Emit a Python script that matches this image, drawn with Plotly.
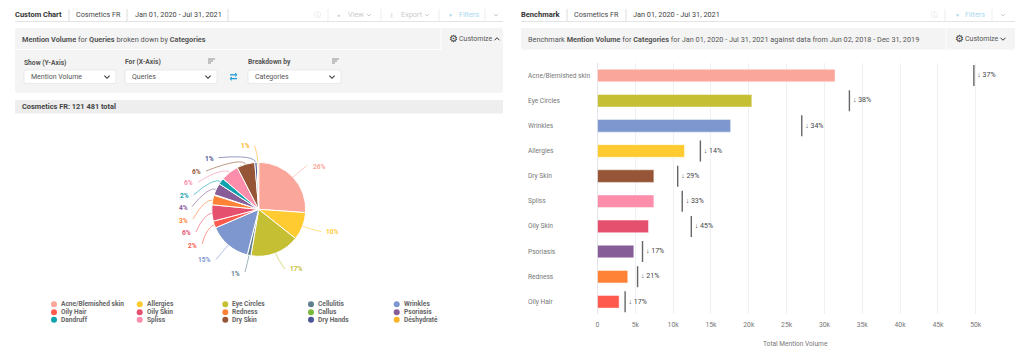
import math
import plotly.graph_objects as go

W, H = 1024, 351
FONT = "Roboto, Arial, sans-serif"

# ---------- data ----------
pie_labels = ["Acne/Blemished skin", "Allergies", "Eye Circles", "Cellulitis", "Wrinkles",
              "Oily Hair", "Oily Skin", "Redness", "Callus", "Psoriasis",
              "Dandruff", "Spliss", "Dry Skin", "Dry Hands", "Déshydraté"]
pie_values = [31400, 11500, 20400, 1500, 17600, 2860, 6740, 4000, 300, 4800, 2600, 7450, 7450, 1000, 600]
pie_pct = ["26%", "10%", "17%", "1%", "15%", "2%", "6%", "3%", "", "4%", "2%", "6%", "6%", "1%", "1%"]
pie_colors = ["#FBA69B", "#FFCB30", "#C5BF33", "#5F7F8C", "#7F97CF",
              "#FF5A4E", "#E5506F", "#FF8237", "#78B83D", "#865D97",
              "#0FA3AE", "#FC8EAC", "#965537", "#4B5595", "#FDB42A"]

bar_categories = ["Acne/Blemished skin", "Eye Circles", "Wrinkles", "Allergies", "Dry Skin",
                  "Spliss", "Oily Skin", "Psoriasis", "Redness", "Oily Hair"]
bar_values = [31400, 20400, 17600, 11500, 7450, 7450, 6740, 4800, 4000, 2860]
benchmark_values = [49750, 33300, 27000, 13600, 10600, 11200, 12400, 5950, 5300, 3650]
change_pct = ["37%", "38%", "34%", "14%", "29%", "33%", "45%", "17%", "21%", "17%"]
bar_colors = ["#FBA69B", "#C5BF33", "#7F97CF", "#FFCB30", "#965537",
              "#FC8EAC", "#E5506F", "#865D97", "#FF8237", "#FF5A4E"]

# ---------- layout constants (pixels) ----------
PIE_CX, PIE_CY, PIE_R = 258.7, 209.3, 47
pie_label_px = [(319, 166.5), (332.5, 232), (296.5, 269), (235, 273.5), (204.5, 259.5),
                (192.5, 245.5), (186.5, 232.5), (183.5, 220.5), None, (183, 207.5),
                (184.5, 196), (188.5, 183.5), (196, 171.5), (209, 158.5), (245, 146.5)]
pie_line_end = [(307, 165.5), (321, 231.5), (285, 269), (245, 272), (216, 259.5),
                (202, 244), (196, 232), (193, 219), None, (192, 206.5),
                (193.5, 195), (198, 182), (206, 171), (218.5, 157.7), (254.5, 145.5)]


def xp(x):
    return x / W


def yp(y):
    return 1 - y / H


shapes, annots = [], []


def text(x, y, s, size=7.3, color="#555", anchor="left"):
    annots.append(dict(x=xp(x - 1 if anchor == "left" else x), y=yp(y), xref="paper", yref="paper", text=s,
                       showarrow=False, xanchor=anchor, yanchor="middle", borderpad=0, align=anchor,
                       font=dict(family=FONT, size=size, color=color)))


def rect(x0, y0, x1, y1, fill, line=None, r=0):
    if r:
        path = (f"M{xp(x0+r)},{yp(y0)} L{xp(x1-r)},{yp(y0)} Q{xp(x1)},{yp(y0)} {xp(x1)},{yp(y0+r)} "
                f"L{xp(x1)},{yp(y1-r)} Q{xp(x1)},{yp(y1)} {xp(x1-r)},{yp(y1)} "
                f"L{xp(x0+r)},{yp(y1)} Q{xp(x0)},{yp(y1)} {xp(x0)},{yp(y1-r)} "
                f"L{xp(x0)},{yp(y0+r)} Q{xp(x0)},{yp(y0)} {xp(x0+r)},{yp(y0)} Z")
        shapes.append(dict(type="path", xref="paper", yref="paper", path=path, fillcolor=fill,
                           line=dict(width=0.7 if line else 0, color=line or fill), layer="below"))
    else:
        shapes.append(dict(type="rect", xref="paper", yref="paper", x0=xp(x0), x1=xp(x1), y0=yp(y0), y1=yp(y1),
                           fillcolor=fill, line=dict(width=0.7 if line else 0, color=line or fill), layer="below"))


def seg(x0, y0, x1, y1, color="#ddd", width=1):
    shapes.append(dict(type="line", xref="paper", yref="paper", x0=xp(x0), x1=xp(x1), y0=yp(y0), y1=yp(y1),
                       line=dict(color=color, width=width), layer="below"))


def poly(points, color, width=1):
    path = "M" + " L".join(f"{xp(a)},{yp(b)}" for a, b in points)
    shapes.append(dict(type="path", xref="paper", yref="paper", path=path,
                       line=dict(color=color, width=width), layer="above"))


def chevron(x, y, color="#444", up=False, s=2.5, width=1):
    d = -1 if up else 1
    poly([(x - s, y - d * s / 2), (x, y + d * s / 2), (x + s, y - d * s / 2)], color, width)


def sort_icon(x, y):
    for i, w in enumerate((7, 5, 3)):
        seg(x, y + i * 2, x + w, y + i * 2, "#777", 0.8)


# ---------- left chrome ----------
text(15, 15, "<b>Custom Chart</b>", 7.5, "#333")
text(76, 15, "Cosmetics FR", 7.2, "#444")
text(135, 15, "Jan 01, 2020 - Jul 31, 2021", 7.3, "#444")
for x in (69, 127, 228):
    seg(x, 9, x, 21, "#ddd")
seg(15, 21.5, 503, 21.5, "#e4e4e4")
text(317, 15, "ⓘ", 7, "#dddddd", "center")
seg(328, 9, 328, 21, "#eee")
text(338, 15, "●", 5, "#cccccc", "center")
text(348, 15, "View", 7.3, "#cccccc")
chevron(369, 15, "#cccccc", s=2)
seg(381, 9, 381, 21, "#eee")
text(391, 15, "⤓", 7, "#cccccc", "center")
text(401, 15, "Export", 7.3, "#cccccc")
chevron(427, 15, "#cccccc", s=2)
seg(439, 9, 439, 21, "#eee")
text(450, 15, "▼", 5, "#a9d8f0", "center")
text(459, 15, "Filters", 7.3, "#a9d8f0")
seg(485, 9, 485, 21, "#eee")
chevron(496, 15, "#cccccc", s=2)

rect(15, 28, 503, 93, "#f4f4f4", r=3)
seg(15, 49.5, 441, 49.5, "#ffffff")
seg(441, 28, 441, 49.5, "#ffffff")
text(22, 39, "<b>Mention Volume</b> for <b>Queries</b> broken down by <b>Categories</b>", 7.35, "#555")
text(453, 38.5, "⚙", 10, "#333", "center")
text(459, 39, "Customize", 7, "#555")
chevron(497, 39, "#333", up=True)
text(24, 62.5, "<b>Show (Y-Axis)</b>", 6.7, "#555")
text(125, 61.5, "<b>For (X-Axis)</b>", 6.7, "#555")
text(248, 61.5, "<b>Breakdown by</b>", 6.7, "#555")
sort_icon(208, 59)
sort_icon(332, 59)
for x0, x1, s in ((24, 116, "Mention Volume"), (125, 217, "Queries"), (248, 341, "Categories")):
    rect(x0, 70, x1, 83.5, "#ffffff", "#e2e2e2", r=2)
    text(x0 + 7, 76.5, s, 7, "#555")
    chevron(x1 - 9, 77, "#333", s=2.6, width=1.1)
# swap icon
poly([(230, 74.8), (237, 74.8)], "#1E9BD7", 1.3)
poly([(235, 73), (237, 74.8), (235, 76.6)], "#1E9BD7", 1)
poly([(230, 78.6), (237, 78.6)], "#1E9BD7", 1.3)
poly([(232, 76.8), (230, 78.6), (232, 80.4)], "#1E9BD7", 1)
rect(15, 100, 503, 113.5, "#eeeeee")
text(22, 106.7, "<b>Cosmetics FR: 121 481 total</b>", 7.4, "#444")

# ---------- right chrome ----------
text(521, 15, "<b>Benchmark</b>", 7.5, "#333")
text(574, 15, "Cosmetics FR", 7.2, "#444")
text(633, 15, "Jan 01, 2020 - Jul 31, 2021", 7.3, "#444")
for x in (567, 626):
    seg(x, 9, x, 21, "#ddd")
seg(521, 21.5, 1015, 21.5, "#e4e4e4")
text(934, 15, "ⓘ", 7, "#dddddd", "center")
seg(945, 9, 945, 21, "#eee")
text(957, 15, "▼", 5, "#a9d8f0", "center")
text(965, 15, "Filters", 7.3, "#a9d8f0")
seg(992, 9, 992, 21, "#eee")
chevron(1003, 15, "#cccccc", s=2)
rect(521, 28, 1015, 49.5, "#f4f4f4")
seg(946, 28, 946, 49.5, "#ffffff")
text(528, 39, "Benchmark <b>Mention Volume</b> for <b>Categories</b> for Jan 01, 2020 - Jul 31, 2021 "
              "against data from Jun 02, 2018 - Dec 31, 2019", 7.3, "#555")
text(959, 38.5, "⚙", 10, "#333", "center")
text(965, 39, "Customize", 7, "#555")
chevron(1003, 39, "#333")

# ---------- custom legend ----------
leg_x = [54, 139.7, 225.3, 311, 396.7]
leg_y = [304.3, 312.3, 319.7]
for i, (lab, col) in enumerate(zip(pie_labels, pie_colors)):
    cx, cy = leg_x[i % 5], leg_y[i // 5]
    shapes.append(dict(type="circle", xref="paper", yref="paper", x0=xp(cx - 3), x1=xp(cx + 3),
                       y0=yp(cy + 3), y1=yp(cy - 3), fillcolor=col, line=dict(width=0)))
    text(cx + 7, cy, f"<b>{lab}</b>", 6.6, "#666")

# ---------- pie labels and leader lines ----------
total = sum(pie_values)
cum = 0
for v, pct, col, lp, le in zip(pie_values, pie_pct, pie_colors, pie_label_px, pie_line_end):
    mid = (cum + v / 2) / total * 2 * math.pi
    cum += v
    if lp is None:
        continue
    dx, dy = math.sin(mid), -math.cos(mid)
    sx, sy = PIE_CX + (PIE_R - 1) * dx, PIE_CY + (PIE_R - 1) * dy
    qx, qy = PIE_CX + (PIE_R + 8) * dx, PIE_CY + (PIE_R + 8) * dy
    path = f"M{xp(sx)},{yp(sy)} Q{xp(qx)},{yp(qy)} {xp(le[0])},{yp(le[1])}"
    shapes.append(dict(type="path", xref="paper", yref="paper", path=path,
                       line=dict(color=col, width=0.8), opacity=0.75, layer="below"))
    text(lp[0], lp[1], f"<b>{pct}</b>", 6.6, col, "center")

# ---------- category labels of bar chart ----------
for c in bar_categories:
    annots.append(dict(x=xp(526.5), xref="paper", y=c, yref="y", text=c, showarrow=False, xanchor="left",
                       yanchor="middle", borderpad=0,
                       font=dict(family=FONT, size=6.6, color="#777")))
text(795, 344, "Total Mention Volume", 6.6, "#777", "center")

# ---------- traces ----------
fig = go.Figure()
fig.add_trace(go.Pie(labels=pie_labels, values=pie_values, sort=False, direction="clockwise", rotation=0,
                     marker=dict(colors=pie_colors, line=dict(color="#ffffff", width=1)),
                     textinfo="none", showlegend=False, hoverinfo="label+percent",
                     domain=dict(x=[xp(PIE_CX - PIE_R), xp(PIE_CX + PIE_R)],
                                 y=[yp(PIE_CY + PIE_R), yp(PIE_CY - PIE_R)])))
fig.add_trace(go.Bar(orientation="h", x=bar_values, y=bar_categories, width=0.5,
                     marker=dict(color=bar_colors, line=dict(color="rgba(255,255,255,0.45)", width=1)),
                     showlegend=False))
fig.add_trace(go.Scatter(x=benchmark_values, y=bar_categories, mode="markers", showlegend=False,
                         marker=dict(symbol="line-ns", size=15, color="#666",
                                     line=dict(color="#666", width=1.4))))
fig.add_trace(go.Scatter(x=benchmark_values, y=bar_categories, mode="text",
                         text=[f"\u00a0\u00a0<b>↓</b>\u00a0{p}" for p in change_pct],
                         textposition="middle right", cliponaxis=False, showlegend=False,
                         textfont=dict(family=FONT, size=7, color="#444")))

PX_PER_K = 7.565
X0 = 597.5
XMAX = 54000
fig.update_layout(
    width=W, height=H, margin=dict(l=0, r=0, t=0, b=0, autoexpand=False),
    paper_bgcolor="#ffffff", plot_bgcolor="rgba(0,0,0,0)",
    font=dict(family=FONT, size=7, color="#777"),
    bargap=0.5, shapes=shapes, annotations=annots,
    xaxis=dict(domain=[xp(X0), xp(X0 + XMAX / 1000 * PX_PER_K)], range=[0, XMAX], tick0=0, dtick=5000,
               tickformat="~s", showgrid=True, gridcolor="#eef0f4", gridwidth=1, zeroline=True,
               zerolinecolor="#e2e4ea", zerolinewidth=1, showline=False, ticks="outside", ticklen=3,
               tickcolor="rgba(0,0,0,0)", tickfont=dict(family=FONT, size=6.8, color="#777")),
    yaxis=dict(domain=[yp(314.4), yp(63)], range=[9.5, -0.5], type="category",
               categoryorder="array", categoryarray=bar_categories,
               showticklabels=False, showgrid=False, zeroline=False, ticks=""),
)
fig.write_html("out.html", post_script="document.body.style.margin='0';", config=dict(displayModeBar=False))
